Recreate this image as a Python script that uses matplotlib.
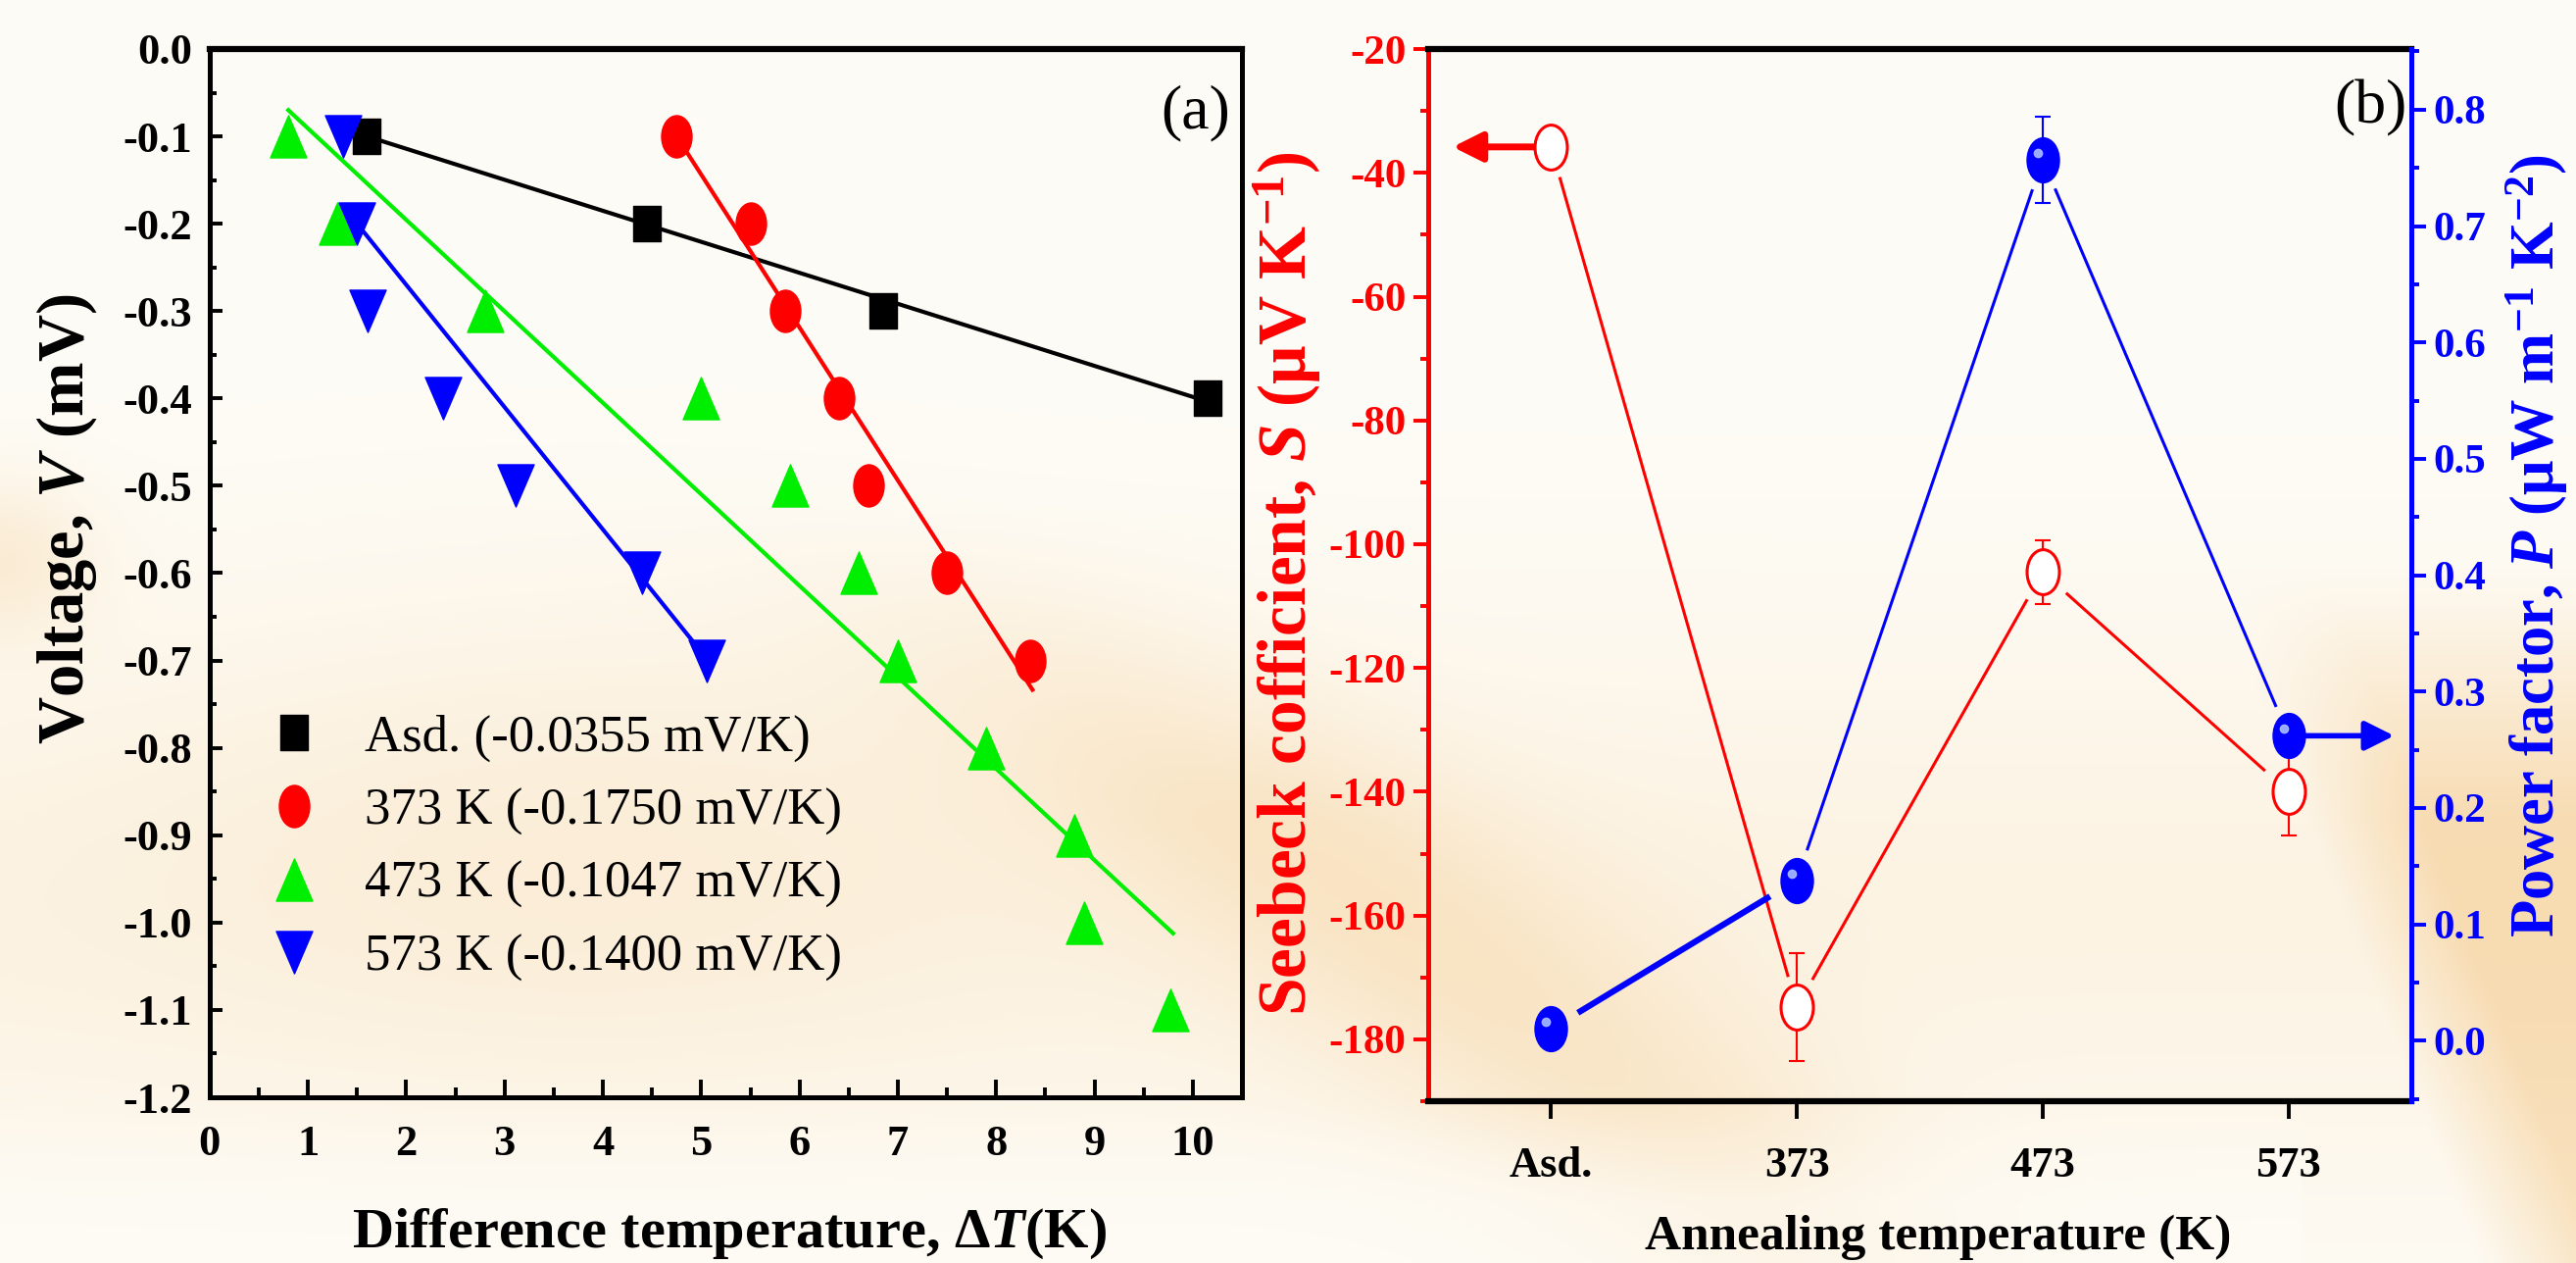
"""
Two-panel thermoelectric figure:
(a) voltage vs temperature difference with linear fits,
(b) Seebeck coefficient and power factor vs annealing temperature.
"""
import numpy as np
import matplotlib.pyplot as plt
from matplotlib.path import Path
from matplotlib.ticker import MultipleLocator, FuncFormatter
from matplotlib.transforms import offset_copy

plt.rcParams['font.family'] = ['Liberation Serif', 'DejaVu Serif']
plt.rcParams['mathtext.fontset'] = 'custom'
plt.rcParams['mathtext.rm'] = 'Liberation Serif'
plt.rcParams['mathtext.it'] = 'Liberation Serif:italic'
plt.rcParams['mathtext.bf'] = 'Liberation Serif:bold'
plt.rcParams['mathtext.bfit'] = 'Liberation Serif:italic:bold'
plt.rcParams['axes.unicode_minus'] = False

# ---------------- data, panel (a) ----------------
dt_asd = [1.60, 4.45, 6.85, 10.15]
v_asd = [-0.1, -0.2, -0.3, -0.4]
dt_373 = [4.75, 5.50, 5.85, 6.40, 6.70, 7.50, 8.35]
v_373 = [-0.1, -0.2, -0.3, -0.4, -0.5, -0.6, -0.7]
dt_473 = [0.80, 1.30, 2.80, 5.00, 5.90, 6.60, 7.00, 7.90, 8.80, 8.90, 9.77]
v_473 = [-0.1, -0.2, -0.3, -0.4, -0.5, -0.6, -0.7, -0.8, -0.9, -1.0, -1.1]
dt_573 = [1.36, 1.50, 1.61, 2.37, 3.11, 4.40, 5.06]
v_573 = [-0.1, -0.2, -0.3, -0.4, -0.5, -0.6, -0.7]

series_names = ['Asd.', '373 K', '473 K', '573 K']
slopes = [-0.0355, -0.1750, -0.1047, -0.1400]      # mV/K, from legend
fit_x0 = [1.60, 4.75, 0.80, 1.50]                   # where each fit line starts
fit_y0 = [-0.10, -0.10, -0.07, -0.20]
fit_x1 = [10.15, 8.37, 9.80, 5.05]                  # where each fit line ends

# ---------------- data, panel (b) ----------------
anneal = ['Asd.', '373', '473', '573']
seebeck = [-35.8, -174.8, -104.5, -140.0]           # uV/K
seebeck_err = [1.9, 8.7, 5.2, 7.0]
pf = [0.010, 0.138, 0.757, 0.262]                   # uW m^-1 K^-2
pf_err = [0.0, 0.0, 0.037, 0.0]


def squished(path, sx):
    """Markers in the original look narrower than they are tall."""
    return Path(path.vertices * [sx, 1.0], path.codes)


M_SQUARE = Path([(-0.75, -1), (0.75, -1), (0.75, 1), (-0.75, 1), (-0.75, -1)], closed=True)
M_ELLIPSE = squished(Path.unit_circle(), 0.72)
M_UP = Path([(0, 1), (-0.86, -1), (0.86, -1), (0, 1)], closed=True)
M_DOWN = Path([(0, -1), (-0.86, 1), (0.86, 1), (0, -1)], closed=True)

one_dec = FuncFormatter(lambda v, p: f'{v:.1f}'.replace('-0.0', '0.0'))


def background(h=322, w=657):
    """Soft cream/peach backdrop with a couple of diagonal bands."""
    yy, xx = np.mgrid[0:1:h * 1j, 0:1:w * 1j]
    px, py = xx * 2628, yy * 1288
    t = 0.22 * np.exp(-((yy - 0.72) / 0.22) ** 2)
    # warm diagonal band running from between the panels into panel (b)
    band = np.exp(-(((px - 1250) * 0.62 - (py - 800) * 0.78) / 150.0) ** 2)
    t += 0.38 * band * np.clip((yy - 0.4) / 0.25, 0, 1) * np.clip((2300 - px) / 500, 0, 1)
    # orange corner at bottom right
    edge = px - (2380 + (py - 900) * 0.39)
    t += 0.6 * np.clip(edge / 120.0, 0, 1) * np.clip((yy - 0.45) / 0.2, 0, 1)
    # warm patch at the far left edge
    t += 0.35 * np.exp(-(((px - 0) / 90.0) ** 2 + ((py - 570) / 80.0) ** 2))
    # warm haze inside the lower part of panel (a)
    t += 0.15 * np.exp(-(((px - 600) / 450.0) ** 2 + ((py - 850) / 250.0) ** 2))
    # light strip along the bottom
    t *= 1 - 0.6 * np.clip((py - 1130) / 100.0, 0, 1) * (px < 2350)
    t = np.clip(t, 0, 1)[..., None]
    light = np.array([254, 252, 246]) / 255.0
    peach = np.array([246, 212, 162]) / 255.0
    return light * (1 - t) + peach * t


def gapped_line(ax, x, y, gap_px, color, widths):
    """Connect points like Origin does: each segment stops short of the markers."""
    pts = ax.transData.transform(np.column_stack([x, y]))
    inv = ax.transData.inverted()
    for k in range(len(pts) - 1):
        p0, p1 = pts[k], pts[k + 1]
        d = p1 - p0
        u = d / np.hypot(*d)
        a = inv.transform(p0 + u * gap_px)
        b = inv.transform(p1 - u * gap_px)
        ax.plot([a[0], b[0]], [a[1], b[1]], color=color, lw=widths[k],
                solid_capstyle='butt', zorder=2)


fig = plt.figure(figsize=(26.28, 12.88), dpi=100)
bg = fig.add_axes([0, 0, 1, 1], zorder=-10)
bg.imshow(background(), aspect='auto', extent=(0, 1, 0, 1), interpolation='bilinear')
bg.axis('off')

# ================= (a) =================
axa = fig.add_axes([0.0814, 0.1312, 0.4007, 0.830])
axa.set_facecolor('none')

colors = ['black', '#ff0000', '#00ee00', '#0000ff']
markers = [M_SQUARE, M_ELLIPSE, M_UP, M_DOWN]
msizes = [26, 31, 31, 31]
xs = [dt_asd, dt_373, dt_473, dt_573]
ys = [v_asd, v_373, v_473, v_573]

for i in range(4):
    xf = np.array([fit_x0[i], fit_x1[i]])
    yf = fit_y0[i] + slopes[i] * (xf - fit_x0[i])
    axa.plot(xf, yf, color=colors[i], lw=3.0, zorder=2)
for i in range(4):
    axa.plot(xs[i], ys[i], ls='none', marker=markers[i], ms=msizes[i],
             color=colors[i], mec=colors[i], zorder=3,
             label=f'{series_names[i]} ({slopes[i]:.4f} mV/K)')

axa.set_xlim(0, 10.5)
axa.set_ylim(-1.2, 0.0)
axa.xaxis.set_major_locator(MultipleLocator(1))
axa.xaxis.set_minor_locator(MultipleLocator(0.5))
axa.yaxis.set_major_locator(MultipleLocator(0.1))
axa.yaxis.set_minor_locator(MultipleLocator(0.05))
axa.yaxis.set_major_formatter(one_dec)
axa.tick_params(axis='y', which='major', direction='in', length=9.5, width=2.8,
                labelsize=32, pad=13)
axa.tick_params(axis='y', which='minor', direction='in', length=5, width=2.8)
axa.tick_params(axis='x', which='major', direction='in', length=13, width=2.8,
                labelsize=32, pad=20)
axa.tick_params(axis='x', which='minor', direction='in', length=7, width=2.8)
for lab in axa.get_xticklabels() + axa.get_yticklabels():
    lab.set_fontweight('bold')
for side in ['left', 'right', 'bottom']:
    axa.spines[side].set_linewidth(3.6)
axa.spines['top'].set_linewidth(4.5)

axa.legend(loc='upper left', bbox_to_anchor=(0.057, 0.365), frameon=False,
           fontsize=38, numpoints=1, handlelength=1.0, handletextpad=0.85,
           labelspacing=0.5, borderpad=0, borderaxespad=0)
axa.text(0.955, 0.939, '(a)', transform=axa.transAxes, fontsize=46,
         ha='center', va='center')

fig.text(0.283, 0.0443, 'Difference temperature, Δ$\\mathbfit{T}$(K)',
         fontsize=42, fontweight='bold', ha='center', va='top')
fig.text(0.026, 0.589, 'Voltage, $\\mathbfit{V}$ (mV)', fontsize=48,
         fontweight='bold', rotation=90, ha='center', va='center')

# ================= (b) =================
axb = fig.add_axes([0.5544, 0.1281, 0.3817, 0.833])
axb.set_facecolor('none')
ax2 = axb.twinx()
ax2.set_facecolor('none')

xpos = np.arange(len(anneal))
axb.set_xlim(-0.5, 3.5)
axb.set_ylim(-190, -20)
ax2.set_ylim(-0.052, 0.852)

axb.errorbar(xpos, seebeck, yerr=seebeck_err, fmt='none', ecolor='#ff0000',
             elinewidth=1.5, capsize=6, capthick=1.5, zorder=2)
gapped_line(axb, xpos, seebeck, 32, '#ff0000', [2.2, 2.2, 2.2])
axb.plot(xpos, seebeck, ls='none', marker=M_ELLIPSE, ms=33, mfc='white',
         mec='#ff0000', mew=2.2, zorder=4)

ax2.errorbar(xpos, pf, yerr=pf_err, fmt='none', ecolor='#0000ff',
             elinewidth=1.5, capsize=6, capthick=1.5, zorder=2)
# first segment of the power-factor curve is drawn heavier in the original
gapped_line(ax2, xpos, pf, 32, '#0000ff', [4.5, 2.2, 2.2])
ax2.plot(xpos, pf, ls='none', marker=M_ELLIPSE, ms=33, color='#0000ff', zorder=4)
shine = offset_copy(ax2.transData, fig=fig, x=-5, y=7, units='dots')
ax2.plot(xpos, pf, ls='none', marker='o', ms=6, color='#a9bdff', alpha=0.9,
         transform=shine, zorder=5)

# arrows pointing at each series' axis
axb.annotate('', xy=(xpos[0] - 0.40, seebeck[0]), xytext=(xpos[0] - 0.07, seebeck[0]),
             arrowprops=dict(arrowstyle='-|>', color='#ff0000', lw=5,
                             mutation_scale=45, shrinkA=0, shrinkB=0))
ax2.annotate('', xy=(xpos[3] + 0.43, pf[3]), xytext=(xpos[3] + 0.07, pf[3]),
             arrowprops=dict(arrowstyle='-|>', color='#0000ff', lw=4,
                             mutation_scale=45, shrinkA=0, shrinkB=0))

axb.set_xticks(xpos)
axb.set_xticklabels(anneal)
axb.yaxis.set_major_locator(MultipleLocator(20))
axb.yaxis.set_minor_locator(MultipleLocator(10))
ax2.yaxis.set_major_locator(MultipleLocator(0.1))
ax2.yaxis.set_minor_locator(MultipleLocator(0.05))
ax2.yaxis.set_major_formatter(one_dec)

axb.tick_params(axis='x', direction='out', length=13, width=2.8, labelsize=32, pad=20)
axb.tick_params(axis='y', which='major', direction='out', length=11, width=2.8,
                color='#ff0000', labelcolor='#ff0000', labelsize=31, pad=5)
axb.tick_params(axis='y', which='minor', direction='out', length=6, width=2.8,
                color='#ff0000')
ax2.tick_params(axis='y', which='major', direction='out', length=11, width=2.8,
                color='#0000ff', labelcolor='#0000ff', labelsize=31, pad=5)
ax2.tick_params(axis='y', which='minor', direction='out', length=6, width=2.8,
                color='#0000ff')
for lab in axb.get_xticklabels() + axb.get_yticklabels() + ax2.get_yticklabels():
    lab.set_fontweight('bold')

axb.spines['left'].set_color('#ff0000')
axb.spines['left'].set_linewidth(3.6)
axb.spines['right'].set_visible(False)
axb.spines['top'].set_linewidth(4.5)
axb.spines['bottom'].set_linewidth(4.5)
for side in ['left', 'top', 'bottom']:
    ax2.spines[side].set_visible(False)
ax2.spines['right'].set_color('#0000ff')
ax2.spines['right'].set_linewidth(3.6)

axb.text(0.958, 0.944, '(b)', transform=axb.transAxes, fontsize=46,
         ha='center', va='center')

fig.text(0.7525, 0.038, 'Annealing temperature (K)', fontsize=37,
         fontweight='bold', ha='center', va='top')
fig.text(0.4996, 0.538, 'Seebeck cofficient, $\\mathbfit{S}$ (μV $\\mathbf{K}^{\\mathbf{-1}}$)',
         fontsize=50, fontweight='bold', color='#ff0000', rotation=90,
         ha='center', va='center')
fig.text(0.985, 0.568,
         'Power factor, $\\mathbfit{P}$ (μW $\\mathbf{m}^{\\mathbf{-1}}$ $\\mathbf{K}^{\\mathbf{-2}}$)',
         fontsize=45, fontweight='bold', color='#0000ff', rotation=90,
         ha='center', va='center')

fig.savefig('out.png', dpi=100)
